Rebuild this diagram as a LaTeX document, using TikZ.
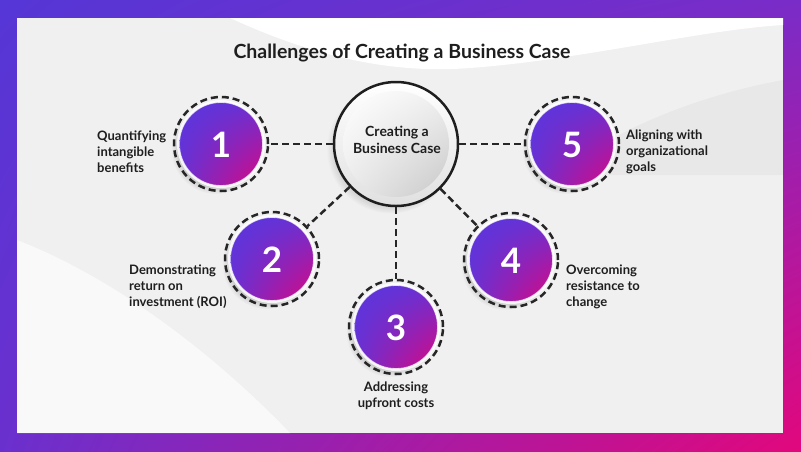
\documentclass[tikz,border=0pt]{standalone}
\usepackage{fontspec}
\setmainfont{Lato}
\usetikzlibrary{shadows,shadings}
\definecolor{bdA}{HTML}{5536D6}
\definecolor{bdB}{HTML}{7A2CC8}
\definecolor{bdC}{HTML}{6A30CE}
\definecolor{bdD}{HTML}{E2077C}
\definecolor{gA}{HTML}{5836DE}
\definecolor{gB}{HTML}{6A31D2}
\definecolor{gD}{HTML}{DC0680}
\definecolor{panel}{HTML}{F0F0F0}
\definecolor{ink}{HTML}{1E1E1E}
\definecolor{dashc}{HTML}{262626}
\tikzset{
  ring/.style={circle, minimum size=94pt, inner sep=0pt, draw=dashc, line width=2.5pt, dash pattern=on 7pt off 4pt},
  conn/.style={draw=dashc, line width=2.5pt, dash pattern=on 7pt off 4pt},
  numshade/.style={upper left=gA, upper right=gB, lower left=gB, lower right=gD},
  numtxt/.style={text=white, font=\fontsize{35}{38}\selectfont\bfseries},
  lbl/.style={text=ink, align=left, font=\fontsize{13}{16}\selectfont\bfseries, inner sep=0pt},
  shad/.style={circular drop shadow={shadow xshift=-5pt, shadow yshift=-5pt, opacity=0.3, shadow scale=1.02}}
}
\begin{document}
\begin{tikzpicture}[x=1pt,y=-1pt]
\useasboundingbox (0,0) rectangle (801,451);
% border
\shade[upper left=bdA, upper right=bdB, lower left=bdC, lower right=bdD] (0,0) rectangle (801,451);
\fill[panel] (17,18) rectangle (783,433);
\begin{scope}
\clip (17,18) rectangle (783,433);
\fill[white] (230,18) .. controls (300,50) and (380,75) .. (470,68) .. controls (580,60) and (700,30) .. (783,25) -- (783,18) -- cycle;
\fill[white,opacity=0.6] (17,240) .. controls (120,280) and (220,360) .. (290,433) -- (17,433) -- cycle;
\fill[black,opacity=0.03] (783,80) .. controls (700,95) and (610,130) .. (560,175) -- (783,175) -- cycle;
\end{scope}
% title
\node[text=ink, font=\fontsize{19.5}{22}\selectfont\bfseries] (title) at (402,53) {Challenges of Creating a Business Case};
% central circle
\node[circle, minimum size=126pt, inner sep=0pt] (c) at (396,144) {};
\fill[white, shad] (c.center) circle (63);
\shade[top color=white, bottom color=black!12] (c.center) circle (62);
\shade[upper left=white, upper right=black!6, lower left=black!8, lower right=black!22] (c.center) circle (53);
\draw[ink, line width=2.5pt] (c.center) circle (62);
\node[text=ink, align=center, font=\fontsize{14}{17}\selectfont\bfseries] (ct) at (397,140) {Creating a\\Business Case};
% number circles
\foreach \n/\x/\y in {1/221/144, 2/272/259, 3/396/327, 4/511/260, 5/572/144}{
  \node[circle, minimum size=88pt, inner sep=0pt, fill=white, fill opacity=0.8, shad] at (\x,\y) {};
  \node[ring] (r\n) at (\x,\y) {};
  \shade[numshade] (r\n.center) circle (41.5);
  \draw[white, opacity=0.6, line width=0.8pt] (r\n.center) circle (41.5);
  \node[numtxt] (t\n) at (\x,\y+1) {\n};
}
% connectors
\draw[conn] (c) -- (r1);
\draw[conn] (c) -- (r2);
\draw[conn] (c) -- (r3);
\draw[conn] (c) -- (r4);
\draw[conn] (c) -- (r5);
% labels
\node[lbl, anchor=west] (l1) at (97,152) {Quantifying\\intangible\\benefits};
\node[lbl, anchor=west] (l2) at (129,287) {Demonstrating\\return on\\investment (ROI)};
\node[lbl, align=center] (l3) at (396,396) {Addressing\\upfront costs};
\node[lbl, anchor=west] (l4) at (566,287) {Overcoming\\resistance to\\change};
\node[lbl, anchor=west] (l5) at (626,152) {Aligning with\\organizational\\goals};
\end{tikzpicture}
\end{document}
